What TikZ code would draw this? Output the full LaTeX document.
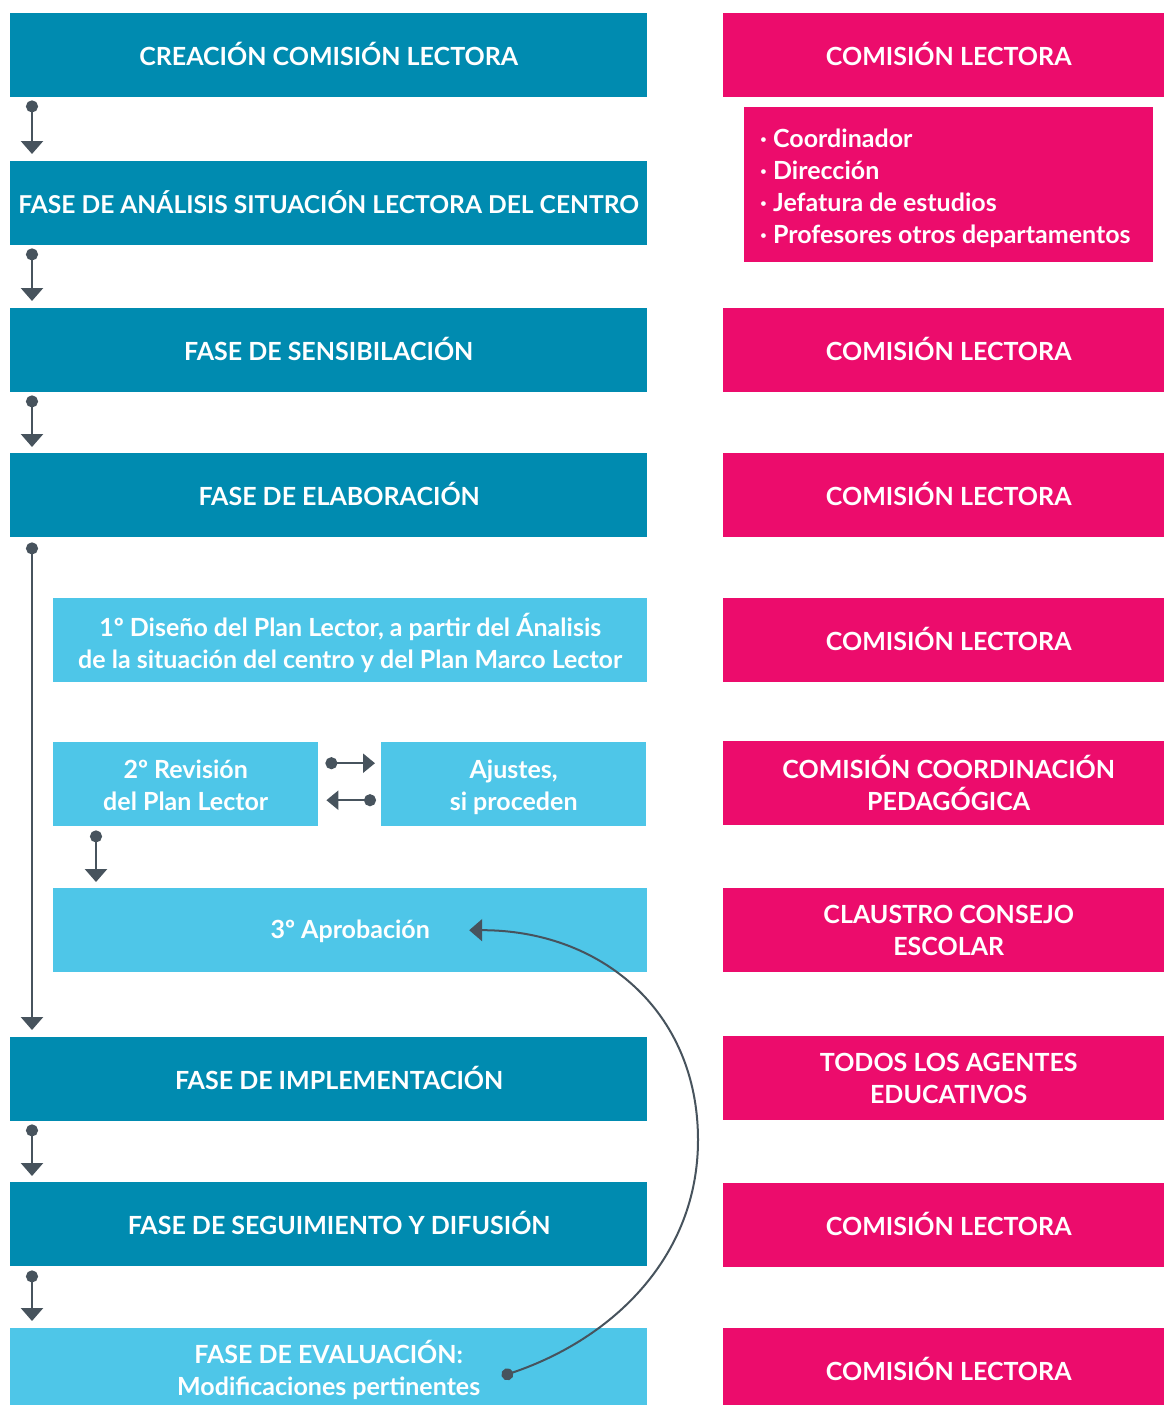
\documentclass[tikz,border=0pt]{standalone}
\usepackage{fontspec}
\setmainfont{Lato}
\usetikzlibrary{arrows.meta}
\definecolor{cteal}{HTML}{008BB0}
\definecolor{clight}{HTML}{4EC6E8}
\definecolor{cpink}{HTML}{EC0C6C}
\definecolor{cgray}{HTML}{47535D}
\begin{document}
\begin{tikzpicture}[x=1pt,y=-1pt,
  box/.style={anchor=north west, inner sep=0pt, minimum height=84pt, text=white,
    font=\bfseries\fontsize{25}{32}\selectfont, align=center},
  oneline/.style={text height=20pt, text depth=0pt},
  darkbox/.style={box, fill=cteal, minimum width=637pt},
  lightbox/.style={box, fill=clight},
  pinkbox/.style={box, fill=cpink, minimum width=451pt},
  conn/.style={line width=2.5pt, draw=cgray,
    arrows={Circle[length=12pt,width=12pt]-Triangle[length=13pt,width=22pt]}},
  sconn/.style={conn,
    arrows={Circle[length=12pt,width=12pt]-Triangle[length=12pt,width=19pt]}}
]
\useasboundingbox (0,0) rectangle (1164,1405);
\fill[white] (0,0) rectangle (1164,1405);

% left column
\node[darkbox, oneline] (c1) at (10,13) {CREACIÓN COMISIÓN LECTORA};
\node[darkbox, oneline, font=\bfseries\fontsize{24.6}{32}\selectfont] (c2) at (10,161) {FASE DE ANÁLISIS SITUACIÓN LECTORA DEL CENTRO};
\node[darkbox, oneline] (c3) at (10,308) {FASE DE SENSIBILACIÓN};
\node[darkbox, oneline] (c4) at (10,453) {\hspace*{21pt}FASE DE ELABORACIÓN};
\node[lightbox, minimum width=594pt] (d1) at (53,598) {\rule{0pt}{29pt}1º Diseño del Plan Lector, a partir del Ánalisis\\de la situación del centro y del Plan Marco Lector};
\node[lightbox, minimum width=265pt] (d2) at (53,742) {\rule{0pt}{21pt}2º Revisión\\del Plan Lector};
\node[lightbox, minimum width=265pt] (aj) at (381,742) {\rule{0pt}{25pt}Ajustes,\\si proceden};
\node[lightbox, oneline, text height=17pt, minimum width=594pt] (d3) at (53,888) {3º Aprobación};
\node[darkbox, oneline] (c5) at (10,1037) {\hspace*{21pt}FASE DE IMPLEMENTACIÓN};
\node[darkbox, oneline] (c6) at (10,1182) {\hspace*{21pt}FASE DE SEGUIMIENTO Y DIFUSIÓN};
\node[lightbox, minimum width=637pt] (c7) at (10,1328) {FASE DE EVALUACIÓN:\\Modificaciones pertinentes};

% right column
\node[pinkbox, oneline] (p1) at (723,13) {COMISIÓN LECTORA};
\node[anchor=north west, fill=cpink, inner sep=0pt, minimum width=409pt, minimum height=155pt] (pl) at (744,107) {};
\node[anchor=west, inner sep=0pt, text=white, align=left,
  font=\bfseries\fontsize{25}{32}\selectfont] (plt) at ([xshift=16pt,yshift=-4pt]pl.west)
  {· Coordinador\\· Dirección\\· Jefatura de estudios\\· Profesores otros departamentos};
\node[pinkbox, oneline] (p3) at (723,308) {COMISIÓN LECTORA};
\node[pinkbox, oneline] (p4) at (723,453) {COMISIÓN LECTORA};
\node[pinkbox, oneline] (p5) at (723,598) {COMISIÓN LECTORA};
\node[pinkbox] (p6) at (723,741) {COMISIÓN COORDINACIÓN\\PEDAGÓGICA};
\node[pinkbox] (p7) at (723,888) {CLAUSTRO CONSEJO\\ESCOLAR};
\node[pinkbox] (p8) at (723,1036) {TODOS LOS AGENTES\\EDUCATIVOS};
\node[pinkbox, oneline] (p9) at (723,1183) {COMISIÓN LECTORA};
\node[pinkbox, oneline] (p10) at (723,1328) {COMISIÓN LECTORA};

% connectors
\draw[conn] ([xshift=22pt,yshift=-3pt]c1.south west) -- ([xshift=22pt,yshift=7pt]c2.north west);
\draw[conn] ([xshift=22pt,yshift=-3pt]c2.south west) -- ([xshift=22pt,yshift=7pt]c3.north west);
\draw[conn] ([xshift=22pt,yshift=-3pt]c3.south west) -- ([xshift=22pt,yshift=6pt]c4.north west);
\draw[conn] ([xshift=22pt,yshift=-5pt]c4.south west) -- ([xshift=22pt,yshift=7pt]c5.north west);
\draw[conn] ([xshift=22pt,yshift=-3pt]c5.south west) -- ([xshift=22pt,yshift=6pt]c6.north west);
\draw[conn] ([xshift=22pt,yshift=-4pt]c6.south west) -- ([xshift=22pt,yshift=7pt]c7.north west);
\draw[conn] ([xshift=43pt,yshift=-4pt]d2.south west) -- ([xshift=43pt,yshift=6pt]d3.north west);
\draw[sconn] ([xshift=7pt,yshift=21pt]d2.east) -- ([xshift=-6pt,yshift=21pt]aj.west);
\draw[sconn] ([xshift=-5pt,yshift=-16pt]aj.west) -- ([xshift=8pt,yshift=-16pt]d2.east);

% feedback curve
\coordinate (cvs) at ([xshift=173pt,yshift=-6pt]c7.center);
\coordinate (cve) at ([xshift=119pt]d3.center);
\draw[conn, line width=2pt] (cvs) .. controls (615,1338) and (698,1255) .. (698,1140)
  .. controls (698,1010) and (600,930) .. (cve);
\end{tikzpicture}
\end{document}
